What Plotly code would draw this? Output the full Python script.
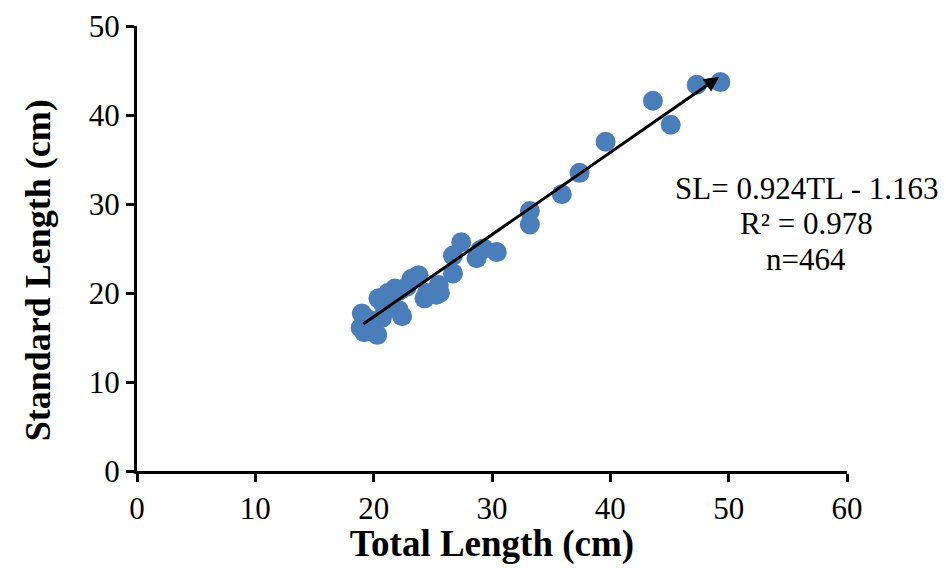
import plotly.graph_objects as go

# Data
total_length = [19.0, 18.9, 19.2, 19.6, 20.3, 20.0, 20.7, 20.4, 21.2, 21.0, 21.8, 22.1, 22.4,
                22.2, 22.8, 23.2, 23.6, 23.8, 24.3, 24.5, 25.3, 25.6, 25.5, 26.7, 26.7, 27.4,
                28.7, 29.0, 29.3, 30.4, 33.2, 33.2, 35.9, 37.4, 39.6, 43.6, 45.1, 47.3, 49.3,
                19.5, 20.8, 21.5]
standard_length = [17.7, 16.1, 15.6, 17.0, 15.3, 15.6, 17.2, 19.4, 20.0, 18.5, 20.5, 18.1, 17.4,
                   20.3, 20.7, 21.6, 21.8, 22.0, 19.4, 20.0, 19.8, 20.0, 20.9, 22.2, 24.2, 25.7,
                   23.9, 24.8, 25.0, 24.6, 29.2, 27.7, 31.1, 33.5, 37.0, 41.6, 38.9, 43.4, 43.7,
                   16.8, 18.8, 19.5]

slope = 0.924
intercept = -1.163
trend_x = [19.0, 49.2]
trend_y = [slope * v + intercept for v in trend_x]

x_ticks = [0, 10, 20, 30, 40, 50, 60]
y_ticks = [0, 10, 20, 30, 40, 50]

eq_lines = ["SL= 0.924TL - 1.163", "R² = 0.978", "n=464"]

FONT = "Liberation Serif, Times New Roman, serif"

fig = go.Figure()
fig.add_trace(go.Scatter(
    x=total_length, y=standard_length, mode="markers",
    marker=dict(size=20, color="#4A7EBB", line=dict(width=0)),
    showlegend=False, cliponaxis=False,
))

# trendline with arrow head
fig.add_annotation(
    x=trend_x[1], y=trend_y[1], ax=trend_x[0], ay=trend_y[0],
    xref="x", yref="y", axref="x", ayref="y",
    showarrow=True, arrowhead=2, arrowsize=1.0, arrowwidth=3, arrowcolor="black", text="",
)

eq_y = [31.75, 27.85, 23.75]
for t, yy in zip(eq_lines, eq_y):
    fig.add_annotation(x=56.55, y=yy, xref="x", yref="y", text=t, showarrow=False,
                       xanchor="center", yanchor="middle",
                       font=dict(family=FONT, size=31, color="black"))

# y-axis title
fig.add_annotation(x=-0.1394, y=0.451, xref="paper", yref="paper",
                   text="<b>Standard Length (cm)</b>", textangle=-90, showarrow=False,
                   xanchor="center", yanchor="middle",
                   font=dict(family=FONT, size=36, color="black"))

fig.update_layout(
    width=930, height=557,
    margin=dict(l=129, r=91, t=18, b=94, autoexpand=False),
    plot_bgcolor="white", paper_bgcolor="white",
    font=dict(family=FONT, size=31, color="black"),
)
fig.update_xaxes(
    range=[0, 60], tickvals=x_ticks, showgrid=False, zeroline=False,
    showline=True, linecolor="black", linewidth=3, automargin=False,
    ticks="outside", ticklen=8, tickwidth=3, tickcolor="black",
    tickfont=dict(family=FONT, size=31, color="black"), ticklabeloverflow="allow",
    title=dict(text="<b>Total Length (cm)</b>", font=dict(family=FONT, size=37, color="black"), standoff=8),
)
fig.update_yaxes(
    range=[0, 50], tickvals=y_ticks, showgrid=False, zeroline=False,
    showline=True, linecolor="black", linewidth=3, automargin=False,
    ticks="outside", ticklen=8, tickwidth=3, tickcolor="black",
    tickfont=dict(family=FONT, size=31, color="black"), ticklabeloverflow="allow",
)

fig.write_html("out.html")
